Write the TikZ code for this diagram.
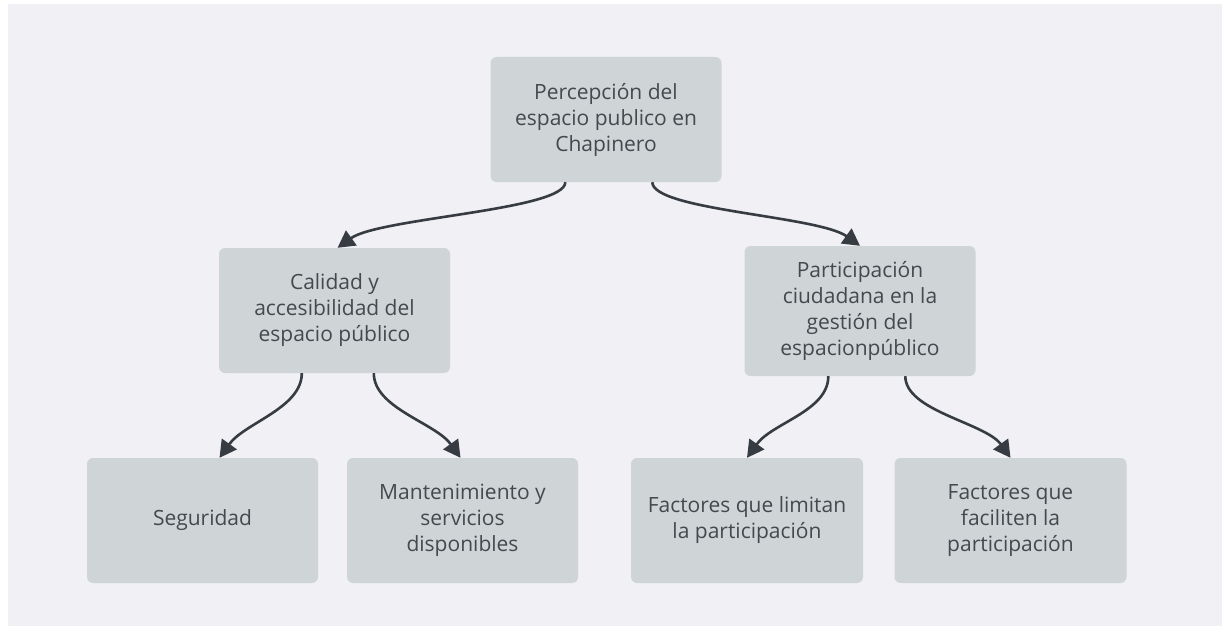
\documentclass[tikz,border=0pt]{standalone}
\usepackage{fontspec}
\setmainfont{Open Sans}
\usetikzlibrary{arrows.meta,calc}
\definecolor{bgc}{HTML}{F0F0F5}
\definecolor{boxc}{HTML}{CFD4D7}
\definecolor{txtc}{HTML}{45494D}
\definecolor{linec}{HTML}{363C41}
\tikzset{
  card/.style={fill=boxc, draw=none, rounded corners=6pt, inner sep=0pt,
    text=txtc, align=center, font=\fontsize{21}{26}\selectfont,
    minimum width=231pt, minimum height=125pt},
  link/.style={draw=linec, line width=2.6pt,
    -{Triangle[length=17pt,width=18pt]}}
}
\begin{document}
\begin{tikzpicture}[x=1pt,y=-1pt]
\useasboundingbox (0,0) rectangle (1222,626);
\fill[white] (0,0) rectangle (1222,626);
\fill[bgc] (8,4) rectangle (1222,626);

\node[card] (top) at (606,119.5) {Percepción del\\espacio publico en\\Chapinero};
\node[card] (cal) at (334.5,310.5) {Calidad y\\accesibilidad del\\espacio público};
\node[card, minimum height=130pt] (par) at (860,311) {Participación\\ciudadana en la\\gestión del\\espacionpúblico};
\node[card] (seg) at (202.5,520.5) {Seguridad};
\node[card] (man) at (462.5,520.5) {Mantenimiento y\\servicios\\disponibles};
\node[card, minimum width=232pt] (lim) at (747,520.5) {Factores que limitan\\la participación};
\node[card, minimum width=232pt] (fac) at (1010.5,520.5) {Factores que\\faciliten la\\participación};

\draw[link] ($(top.south west)+(75,0)$) .. controls +(0,28) and +(42,-30) .. ($(cal.north)+(3,0)$);
\draw[link] ($(top.south west)+(162,0)$) .. controls +(0,28) and +(-42,-30) .. (par.north);
\draw[link] ($(cal.south west)+(83,0)$) .. controls +(0,35) and +(25,-35) .. ($(seg.north)+(17,0)$);
\draw[link] ($(cal.south west)+(155,0)$) .. controls +(0,35) and +(-25,-35) .. ($(man.north)+(-2,0)$);
\draw[link] ($(par.south west)+(84,0)$) .. controls +(0,35) and +(25,-35) .. (lim.north);
\draw[link] ($(par.south west)+(161,0)$) .. controls +(0,35) and +(-25,-35) .. (fac.north);
\end{tikzpicture}
\end{document}
